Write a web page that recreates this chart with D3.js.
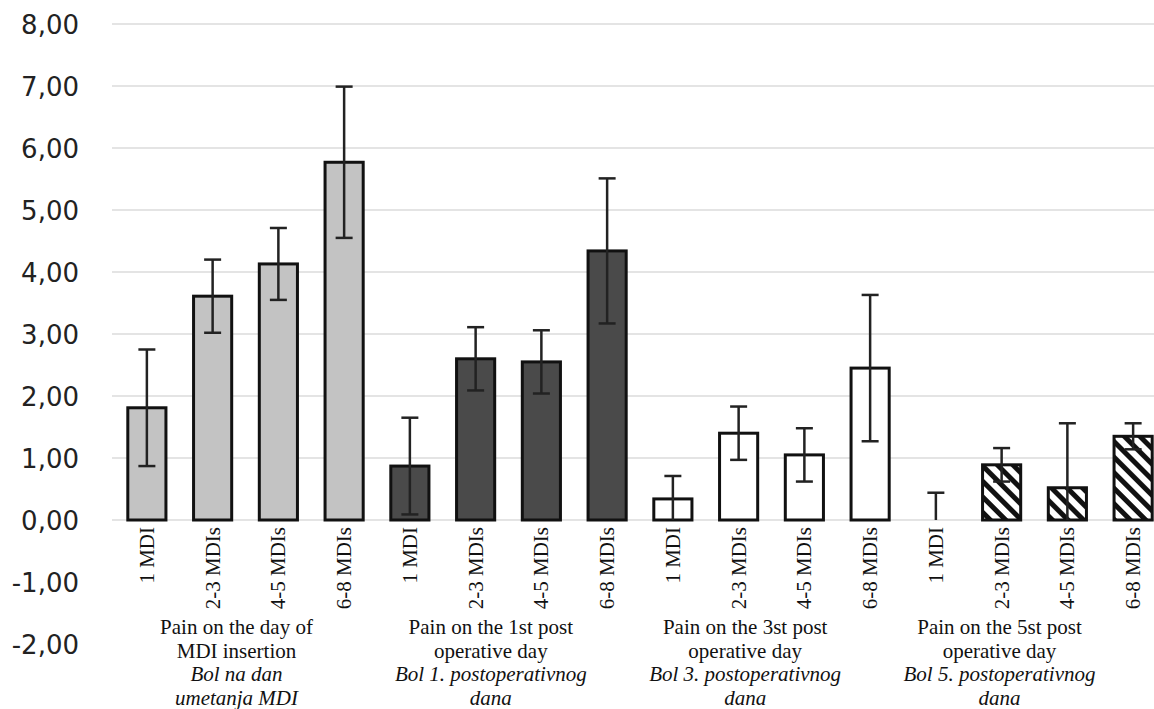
<!DOCTYPE html>
<html>
<head>
<meta charset="utf-8">
<script src="https://cdn.jsdelivr.net/npm/d3@7"></script>
<style>
  html, body { margin: 0; padding: 0; background: #fff; }
  svg { display: block; }
</style>
</head>
<body>
<svg id="chart" width="1154" height="709"></svg>
<script>
// ---- data ----
const categories = ["1 MDI", "2-3 MDIs", "4-5 MDIs", "6-8 MDIs"];
const groupLabels = [
  ["Pain on the day of", "MDI insertion", "Bol na dan", "umetanja MDI"],
  ["Pain on the 1st post", "operative day", "Bol 1. postoperativnog", "dana"],
  ["Pain on the 3st post", "operative day", "Bol 3. postoperativnog", "dana"],
  ["Pain on the 5st post", "operative day", "Bol 5. postoperativnog", "dana"]
];
const meanInsertion = [1.81, 3.61, 4.13, 5.77];
const sdInsertion   = [0.94, 0.59, 0.58, 1.22];
const meanDay1      = [0.87, 2.60, 2.55, 4.34];
const sdDay1        = [0.78, 0.51, 0.51, 1.17];
const meanDay3      = [0.34, 1.40, 1.05, 2.45];
const sdDay3        = [0.37, 0.43, 0.43, 1.18];
const meanDay5      = [0.00, 0.89, 0.52, 1.35];
const sdDay5        = [0.44, 0.27, 1.04, 0.21];
const yTickValues   = [-2, -1, 0, 1, 2, 3, 4, 5, 6, 7, 8];
const yTickLabels   = ["-2,00", "-1,00", "0,00", "1,00", "2,00", "3,00", "4,00", "5,00", "6,00", "7,00", "8,00"];

const means = [meanInsertion, meanDay1, meanDay3, meanDay5];
const sds = [sdInsertion, sdDay1, sdDay3, sdDay5];
const fills = ["#c3c3c3", "#4a4a4a", "#ffffff", "url(#hatch)"];
const SERIF = "'Liberation Serif'";
const SANS = "'DejaVu Sans'";

const rows = [];
means.forEach((arr, g) => arr.forEach((v, c) => rows.push({
  key: g + "-" + c, g, c, cat: categories[c], v, sd: sds[g][c]
})));

// ---- layout ----
const svg = d3.select("#chart");
const x = d3.scaleBand().domain(rows.map(d => d.key))
  .range([114, 1166]).paddingInner(0.42).paddingOuter(0.21);
const y = d3.scaleLinear().domain([-2, 8]).range([644, 24]);

const defs = svg.append("defs");
const pat = defs.append("pattern").attr("id", "hatch")
  .attr("patternUnits", "userSpaceOnUse").attr("width", 11).attr("height", 11)
  .attr("patternTransform", "rotate(-45)");
pat.append("rect").attr("width", 11).attr("height", 11).attr("fill", "#fff");
pat.append("rect").attr("x", 0).attr("width", 5).attr("height", 11).attr("fill", "#111");

// gridlines
svg.append("g").selectAll("line").data(yTickValues.filter(t => t >= 0)).join("line")
  .attr("x1", 112).attr("x2", 1154)
  .attr("y1", d => y(d)).attr("y2", d => y(d))
  .attr("stroke", "#c9c9c9").attr("stroke-width", 1.2);

// y axis labels
const yAxis = d3.axisLeft(y).tickValues(yTickValues)
  .tickFormat((d, i) => yTickLabels[i]).tickSize(0).tickPadding(0);
const ya = svg.append("g").attr("transform", "translate(79,0)").call(yAxis);
ya.attr("font-family", null).attr("font-size", null);
ya.select(".domain").remove();
ya.selectAll("text").style("font-family", SANS)
  .style("font-size", "26px").attr("fill", "#222").attr("dy", "0.36em");

// bars
svg.append("g").selectAll("rect").data(rows.filter(d => d.v > 0)).join("rect")
  .attr("x", d => x(d.key)).attr("width", x.bandwidth())
  .attr("y", d => y(d.v)).attr("height", d => y(0) - y(d.v))
  .attr("fill", d => fills[d.g]).attr("stroke", "#111").attr("stroke-width", 3);

// error bars
const capW = 17;
const eb = svg.append("g").attr("stroke", "#222").attr("stroke-width", 2.5);
rows.forEach(d => {
  const cx = x(d.key) + x.bandwidth() / 2;
  const hi = d.v + d.sd, lo = Math.max(0, d.v - d.sd);
  eb.append("line").attr("x1", cx).attr("x2", cx).attr("y1", y(hi)).attr("y2", y(lo));
  eb.append("line").attr("x1", cx - capW / 2).attr("x2", cx + capW / 2).attr("y1", y(hi)).attr("y2", y(hi));
  if (lo > 0) eb.append("line").attr("x1", cx - capW / 2).attr("x2", cx + capW / 2).attr("y1", y(lo)).attr("y2", y(lo));
});

// category tick labels (rotated)
svg.append("g").selectAll("text").data(rows).join("text")
  .attr("transform", d => `translate(${x(d.key) + x.bandwidth() / 2 + 7},${y(0) + 7}) rotate(-90)`)
  .attr("text-anchor", "end")
  .style("font-family", SERIF).style("font-size", "21px").attr("fill", "#111")
  .text(d => d.cat);

// group labels
const groupCenter = g => (x(g + "-0") + x(g + "-3") + x.bandwidth()) / 2;
const gx = d3.scaleLinear().domain([0, 3]).range([groupCenter(0) - 9, groupCenter(3) - 35]);
groupLabels.forEach((lines, g) => {
  const t = svg.append("text").attr("text-anchor", "middle")
    .style("font-family", SERIF).style("font-size", "21px").attr("fill", "#111");
  lines.forEach((s, i) => {
    t.append("tspan").attr("x", gx(g)).attr("y", 634 + i * 23.5)
      .style("font-style", i >= 2 ? "italic" : "normal").text(s);
  });
});
</script>
</body>
</html>
